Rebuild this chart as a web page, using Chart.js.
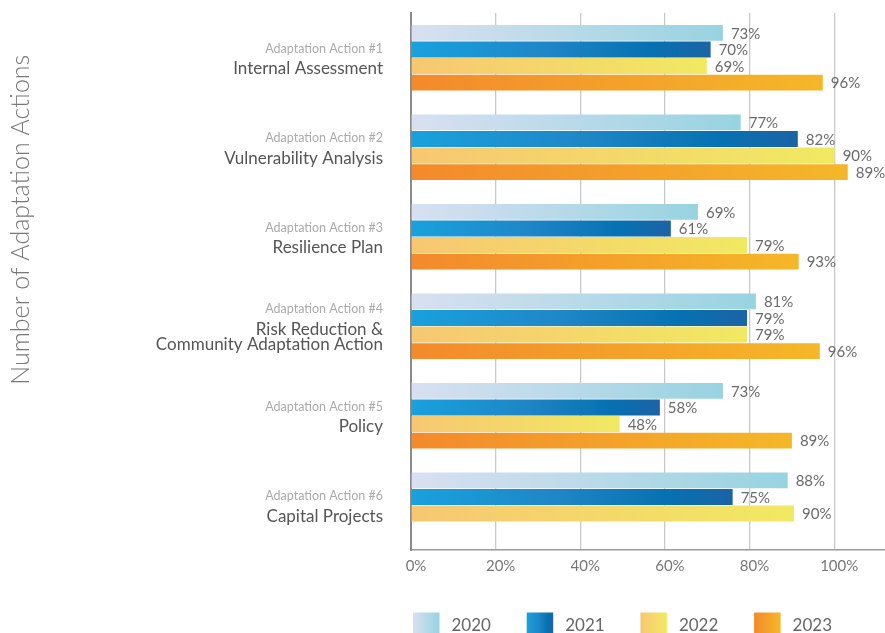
<!DOCTYPE html>
<html>
<head>
<meta charset="utf-8">
<script src="https://cdn.jsdelivr.net/npm/chart.js@4/dist/chart.umd.min.js"></script>
<style>
  html, body { margin: 0; padding: 0; background: #ffffff; }
  #wrap { width: 885px; height: 633px; }
</style>
</head>
<body>
<div id="wrap"><canvas id="c" width="885" height="633"></canvas></div>
<script>
// ---- data ----
const actionNumbers = ["Adaptation Action #1", "Adaptation Action #2", "Adaptation Action #3", "Adaptation Action #4", "Adaptation Action #5", "Adaptation Action #6"];
const actionNames = [["Internal Assessment"], ["Vulnerability Analysis"], ["Resilience Plan"], ["Risk Reduction &", "Community Adaptation Action"], ["Policy"], ["Capital Projects"]];
const years = ["2020", "2021", "2022", "2023"];

// bar lengths as drawn (percent of the axis)
const values2020 = [73.7, 77.9, 67.8, 81.5, 73.7, 89.0];
const values2021 = [70.8, 91.4, 61.4, 79.4, 58.8, 76.0];
const values2022 = [69.9, 100.1, 79.4, 79.4, 49.3, 90.5];
const values2023 = [97.3, 103.2, 91.6, 96.6, 90.0, null];

// value labels printed next to the bars
const labels2020 = ["73%", "77%", "69%", "81%", "73%", "88%"];
const labels2021 = ["70%", "82%", "61%", "79%", "58%", "75%"];
const labels2022 = ["69%", "90%", "79%", "79%", "48%", "90%"];
const labels2023 = ["96%", "89%", "93%", "96%", "89%", null];

const xTicks = [0, 20, 40, 60, 80, 100];
const yAxisTitle = "Number of Adaptation Actions";

// ---- styles ----
const gradStops = [
  [[0, "#d8e0f1"], [1, "#98d3e1"]],
  [[0, "#19a1dd"], [0.45, "#1f86c7"], [0.8, "#0671b2"], [1, "#1c63a5"]],
  [[0, "#f7c772"], [1, "#f1e962"]],
  [[0, "#f38a2c"], [1, "#f5b728"]]
];
const FONT = "Lato, 'Open Sans', sans-serif";

function makeGrad(ctx2d, x0, x1, stops) {
  const g = ctx2d.createLinearGradient(x0, 0, Math.max(x1, x0 + 1), 0);
  stops.forEach(s => g.addColorStop(s[0], s[1]));
  return g;
}

function barColor(si) {
  return function (c) {
    const chart = c.chart;
    if (!chart.chartArea || c.type !== 'data' || c.raw == null) return gradStops[si][0][1];
    const xs = chart.scales.x;
    const x0 = xs.getPixelForValue(0);
    const x1 = xs.getPixelForValue(c.raw);
    return makeGrad(chart.ctx, x0, x1, gradStops[si]);
  };
}

const seriesValues = [values2020, values2021, values2022, values2023];
const seriesLabels = [labels2020, labels2021, labels2022, labels2023];

const overlayPlugin = {
  id: 'overlay',
  afterDatasetsDraw(chart) {
    const ctx = chart.ctx;
    ctx.save();
    ctx.font = "15px " + FONT;
    ctx.fillStyle = "#6a6a6a";
    ctx.textAlign = "left";
    ctx.textBaseline = "middle";
    chart.data.datasets.forEach((ds, si) => {
      const meta = chart.getDatasetMeta(si);
      meta.data.forEach((bar, i) => {
        const txt = seriesLabels[si][i];
        if (txt == null || ds.data[i] == null) return;
        ctx.fillText(txt, bar.x + 8, bar.y + 1);
      });
    });
    ctx.restore();
  },
  afterDraw(chart) {
    const ctx = chart.ctx;
    const area = chart.chartArea;
    const ys = chart.scales.y;
    ctx.save();
    // category labels
    ctx.textAlign = "right";
    ctx.textBaseline = "middle";
    const rx = area.left - 28;
    actionNumbers.forEach((num, i) => {
      const cy = ys.getPixelForValue(i) + 2;
      const names = actionNames[i];
      const total = 18 + names.length * 16;
      let y = cy - total / 2 + 6;
      ctx.font = "12.5px " + FONT;
      ctx.fillStyle = "#ababab";
      ctx.fillText(num, rx, y);
      y += 20;
      ctx.font = "17px " + FONT;
      ctx.fillStyle = "#555555";
      names.forEach(n => { ctx.fillText(n, rx, y); y += 15; });
    });
    // y-axis title
    ctx.save();
    ctx.translate(21, area.top + (area.bottom - area.top) * 0.385);
    ctx.rotate(-Math.PI / 2);
    ctx.font = "300 25px " + FONT;
    ctx.fillStyle = "#777777";
    ctx.textAlign = "center";
    ctx.textBaseline = "middle";
    ctx.fillText(yAxisTitle, 0, 0);
    ctx.restore();
    // legend
    const step = 113.7;
    const boxW = 26.5;
    const top = chart.height - 20.5;
    years.forEach((yr, si) => {
      const bx = area.left + 2 + si * step;
      ctx.fillStyle = makeGrad(ctx, bx, bx + boxW, gradStops[si]);
      ctx.fillRect(bx, top, boxW, 24);
      ctx.font = "17px " + FONT;
      ctx.fillStyle = "#666666";
      ctx.textAlign = "left";
      ctx.textBaseline = "middle";
      ctx.fillText(yr, bx + boxW + 12, top + 13.5);
    });
    ctx.restore();
  }
};

new Chart(document.getElementById('c'), {
  type: 'bar',
  data: {
    labels: actionNumbers,
    datasets: years.map((yr, si) => ({
      label: yr,
      data: seriesValues[si],
      backgroundColor: barColor(si),
      borderWidth: 0,
      categoryPercentage: 0.74,
      barPercentage: 0.96
    }))
  },
  options: {
    indexAxis: 'y',
    responsive: false,
    animation: false,
    layout: { padding: { top: 13, right: 0, bottom: 0, left: 0 } },
    plugins: {
      legend: { display: false },
      tooltip: { enabled: false },
      title: { display: false }
    },
    scales: {
      x: {
        type: 'linear',
        min: 0,
        max: 112,
        z: 1,
        afterBuildTicks(scale) { scale.ticks = xTicks.map(v => ({ value: v })); },
        afterFit(scale) { scale.height = 83; },
        grid: { color: 'rgba(90,90,90,0.33)', lineWidth: 1.3, drawTicks: false },
        border: { display: true, color: '#9a9a9a', width: 1.5 },
        ticks: {
          padding: 7,
          labelOffset: 5,
          color: '#777777',
          font: { family: FONT, size: 15 },
          callback: v => v + '%'
        }
      },
      y: {
        type: 'category',
        afterFit(scale) { scale.width = 411; },
        grid: { display: false, drawTicks: false },
        border: { display: true, color: '#8a8a8a', width: 2 },
        ticks: { display: false }
      }
    }
  },
  plugins: [overlayPlugin]
});
</script>
</body>
</html>
